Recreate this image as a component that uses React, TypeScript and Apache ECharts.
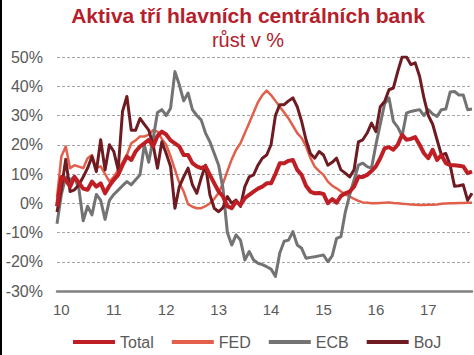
import React, { useEffect, useRef } from "react";
import * as echarts from "echarts";

// Monthly observations, first point = Dec 2009
const startYear = 2009;
const startMonth = 12;

const total = [
  -1, 9, 8, 5.7, 9, 7, 5, 4.6, 7.4, 5.7, 6.8, 3.4, 6, 8, 9.7, 13, 16, 14.8, 17.7, 19.4,
  20.5, 21.7, 19.4, 23, 24.5, 23.5, 21.5, 20.5, 19.4, 16.5, 16.5, 13.7, 12.6, 12, 12.6, 9.7, 6.8, 4, 2.3, -1,
  -1.7, 0.6, -0.6, 1.7, 2.9, 4, 5, 5.7, 6.8, 6.8, 10, 13.7, 13.7, 14.5, 14.8, 11.4, 9.7, 6, 4, 3.4,
  3.5, 3.2, 0, 1.4, 0.2, 2.5, 3.4, 4, 5.7, 9, 9, 9.7, 11, 12.6, 15.4, 18.8, 19.2, 18.3, 20, 23.4,
  21.7, 22, 22.6, 20, 17.1, 15.4, 18.3, 14.8, 16.5, 13.7, 13, 13, 12.8, 12.6, 10.3, 10.8,
];

const fed = [
  2, 16, 19.4, 12, 13, 12.5, 12, 15.4, 16.5, 12, 12.6, 10, 7.4, 9, 11.4, 14, 16.5, 20.5, 21.5, 22.8,
  22.8, 23.5, 25, 24.5, 22, 20, 16, 11.5, 7, 4, -0.3, -1.2, -1.7, -1.7, -1, 0, 1.5, 3.5, 6.8, 11,
  15, 18.3, 20.5, 24, 27.4, 31, 34.5, 37, 38.5, 37, 35, 33, 31, 29, 26.5, 24, 22.3, 19.5, 15.5, 12.5,
  11, 9.7, 7.4, 6, 5.1, 4, 3, 2.3, 1.5, 0.8, 0.3, 0.2, 0, 0, 0.1, 0.2, 0.3, 0.1, 0, -0.2,
  -0.3, -0.4, -0.5, -0.6, -0.6, -0.5, -0.5, -0.4, -0.2, -0.1, 0, 0, 0.1, 0.1, 0.2, 0.2,
];

const ecb = [
  -7, 3, 9, 8, 9, 5, -6, -1, -4, 3, 1, -5.5, 1, 3, 4.5, 6, 7.4, 6.3, 8, 9.7,
  20, 14, 22, 31, 32, 30, 32.5, 45, 40.5, 35, 37.7, 32, 30, 28.5, 24, 21, 17, 13, 5, -10,
  -14.3, -10.8, -12.6, -19.4, -16.5, -19.4, -20.5, -21, -21.7, -22.5, -25, -17, -13, -12.6, -9.7, -14.3, -15.4, -18.8, -18.5, -18.3,
  -18, -17.7, -20, -18, -12, -11.4, -3, 2.9, 8, 13, 13.7, 12.5, 12, 20, 27, 34, 36, 28, 26, 23,
  30.8, 31.4, 31.7, 32, 30, 32, 30.5, 29.7, 32, 32.2, 38, 38.2, 37, 37, 32, 32.2,
];

const boj = [
  -3, 5, 15, 4, 4.6, 6.3, 9, 12, 16, 10.8, 21.7, 11.4, 20, 17.7, 11.4, 31.4, 36.5, 25, 25, 29,
  27, 25, 20, 12, 21, 17, 12.6, -1.7, 5.7, 9, 12, 6.3, 3.4, 8.6, 13, 2.9, -1.7, -2.9, -1.5, 2.3,
  0, 1.1, -1.1, 5.7, 9, 9.7, 13, 15.4, 16.5, 20, 30, 33.7, 33.7, 35, 36, 33, 28, 21.7, 17, 15.4,
  17.7, 16.5, 13, 14, 15.4, 11.4, 10.3, 9, 11.4, 21, 21.7, 24, 27.4, 24.5, 33, 34.8, 38.8, 39.4, 45, 50,
  50, 47.4, 48, 43.4, 36, 30, 27, 21.7, 16.5, 17, 13, 5.8, 6, 6.3, 1, 3.4,
];

const seriesNames = ["Total", "FED", "ECB", "BoJ"];
const seriesColors = ["#BE1E24", "#E2604B", "#737373", "#6E1C22"];
const seriesWidths = [4, 2.5, 3, 3];
const seriesData = [total, fed, ecb, boj];

const yTicks = [-30, -20, -10, 0, 10, 20, 30, 40, 50];

const titleText = "Aktiva tří hlavních centrálních bank";
const subtitleText = "růst v %";

const categories: string[] = total.map((_, i) => {
  const m0 = startMonth - 1 + i;
  const y = startYear + Math.floor(m0 / 12);
  const m = (m0 % 12) + 1;
  return `${y}-${String(m).padStart(2, "0")}`;
});

const FONT = "'Liberation Sans', Arial, sans-serif";
const TITLE_COLOR = "#B5202B";

export default function App() {
  const ref = useRef<HTMLDivElement>(null);
  useEffect(() => {
    if (!ref.current) return;
    const chart = echarts.init(ref.current, undefined, { renderer: "svg" });
    chart.setOption({
      animation: false,
      backgroundColor: "#ffffff",
      graphic: [
        { type: "rect", shape: { x: 0, y: 0, width: 2, height: 355 }, style: { fill: "#000" } },
        {
          type: "text",
          x: 248,
          y: 5,
          style: {
            text: titleText,
            textAlign: "center",
            textVerticalAlign: "top",
            fontFamily: FONT,
            fontSize: 21,
            fontWeight: "bold",
            fill: TITLE_COLOR,
          },
        },
        {
          type: "text",
          x: 248,
          y: 30,
          style: {
            text: subtitleText,
            textAlign: "center",
            textVerticalAlign: "top",
            fontFamily: FONT,
            fontSize: 20,
            fontWeight: "normal",
            fill: TITLE_COLOR,
          },
        },
      ],
      legend: {
        left: 68,
        top: 329,
        icon: "rect",
        itemWidth: 42,
        itemHeight: 4,
        itemGap: 18,
        textStyle: { fontFamily: FONT, fontSize: 16, color: "#595959" },
        data: seriesNames,
      },
      grid: { left: 57, right: 2, top: 57, bottom: 64, containLabel: false },
      xAxis: [
        {
          type: "category",
          data: categories,
          boundaryGap: false,
          axisLine: { show: false },
          axisTick: { show: false },
          axisLabel: {
            interval: (idx: number) => idx % 12 === 1,
            formatter: (v: string) => v.slice(2, 4),
            fontFamily: FONT,
            fontSize: 15,
            color: "#595959",
            margin: 11,
          },
          splitLine: { show: false },
        },
        {
          type: "category",
          data: categories,
          boundaryGap: false,
          position: "bottom",
          axisLine: { show: true, onZero: true, lineStyle: { color: "#808080", width: 2.5 } },
          axisTick: { show: false },
          axisLabel: { show: false },
          splitLine: { show: false },
        },
      ],
      yAxis: {
        type: "value",
        min: yTicks[0],
        max: yTicks[yTicks.length - 1],
        interval: 10,
        axisLine: { show: false },
        axisTick: { show: false },
        axisLabel: {
          formatter: (v: number) => `${v}%`,
          fontFamily: FONT,
          fontSize: 16,
          color: "#595959",
          margin: 14,
        },
        splitLine: { show: true, lineStyle: { color: "#A6A6A6", type: [3, 2], width: 1 } },
      },
      series: seriesNames.map((name, k) => ({
        name,
        type: "line",
        data: seriesData[k],
        showSymbol: false,
        symbol: "none",
        color: seriesColors[k],
        lineStyle: { width: seriesWidths[k], color: seriesColors[k], join: "round" },
        z: k === 0 ? 6 : 2 + k,
      })),
    });
    return () => chart.dispose();
  }, []);
  return (
    <div
      ref={ref}
      style={{ position: "fixed", left: 0, top: 0, width: 474, height: 355, background: "#fff" }}
    />
  );
}
